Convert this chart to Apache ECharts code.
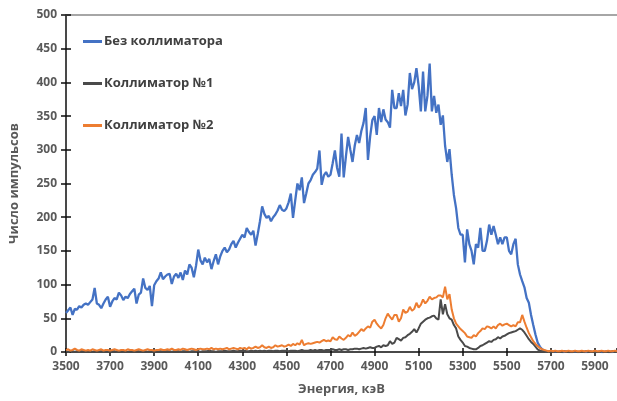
<!DOCTYPE html>
<html><head><meta charset="utf-8">
<script src="https://cdn.jsdelivr.net/npm/echarts@6/dist/echarts.min.js"></script>
<style>html,body{margin:0;padding:0;background:#fff}#c{width:617px;height:401px}</style>
</head><body><div id="c"></div>
<script>
const E_START = 3500, E_STEP = 10;
const seriesNames = ['Без коллиматора', 'Коллиматор №1', 'Коллиматор №2'];
const xTitle = 'Энергия, кэВ';
const yTitle = 'Число импульсов';

const noCollimator = [
 58, 62, 66, 55, 64, 63, 68, 66, 70, 72,
 70, 74, 78, 95, 72, 70, 65, 72, 78, 82,
 67, 75, 80, 78, 88, 84, 77, 82, 80, 86,
 90, 94, 72, 85, 88, 109, 95, 92, 98, 68,
 99, 105, 109, 118, 108, 112, 115, 116, 101, 112,
 116, 110, 118, 107, 121, 115, 130, 125, 111, 128,
 152, 136, 130, 140, 133, 138, 123, 135, 145, 130,
 142, 150, 155, 148, 152, 160, 165, 155, 162, 168,
 174, 170, 184, 178, 174, 180, 158, 175, 194, 216,
 205, 199, 202, 194, 200, 204, 210, 218, 211, 209,
 213, 222, 235, 199, 225, 250, 240, 259, 221, 235,
 250, 255, 263, 267, 272, 299, 248, 262, 267, 260,
 263, 280, 299, 273, 260, 324, 259, 290, 319, 300,
 282, 306, 322, 310, 328, 340, 362, 285, 320, 344,
 350, 322, 362, 341, 360, 345, 341, 333, 389, 362,
 362, 384, 365, 389, 351, 367, 414, 390, 400, 421,
 395, 357, 416, 357, 380, 428, 357, 380, 355, 367,
 337, 351, 306, 282, 301, 263, 233, 213, 184, 174,
 174, 133, 182, 160, 150, 130, 160, 155, 184, 150,
 150, 165, 189, 174, 187, 174, 160, 170, 160, 170,
 170, 150, 145, 160, 168, 130, 115, 105, 96, 80,
 73, 55, 40, 26, 14, 8, 4, 2, 1, 1,
 1, 0, 1, 0, 1, 0, 0, 1, 0, 0,
 0, 1, 0, 0, 1, 0, 0, 0, 1, 0,
 0, 0, 1, 0, 0, 1, 0, 0, 0, 1,
 0
];

const collimator1 = [
 1, 0, 1, 1, 0, 1, 0, 1, 1, 0,
 1, 1, 0, 1, 0, 1, 1, 0, 1, 1,
 0, 1, 1, 0, 1, 1, 0, 1, 0, 1,
 1, 0, 1, 1, 0, 1, 1, 0, 1, 1,
 0, 1, 1, 1, 0, 1, 1, 1, 0, 1,
 1, 1, 0, 1, 1, 1, 0, 1, 1, 1,
 1, 0, 1, 1, 1, 2, 1, 1, 0, 1,
 1, 1, 2, 1, 1, 1, 2, 1, 1, 2,
 1, 2, 1, 1, 2, 1, 2, 1, 2, 1,
 2, 1, 2, 2, 1, 2, 2, 1, 2, 2,
 2, 1, 2, 2, 2, 1, 2, 3, 2, 2,
 2, 3, 2, 3, 2, 3, 3, 2, 3, 3,
 3, 4, 3, 3, 4, 3, 4, 4, 3, 4,
 4, 5, 5, 4, 5, 6, 5, 6, 7, 6,
 6, 8, 9, 7, 10, 9, 10, 16, 12, 14,
 21, 19, 17, 21, 22, 25, 27, 30, 34, 29,
 35, 42, 45, 48, 50, 51, 53, 54, 50, 48,
 78, 56, 71, 56, 50, 48, 40, 35, 23, 18,
 14, 9, 8, 6, 5, 4, 4, 6, 9, 10,
 12, 14, 16, 15, 18, 19, 22, 20, 23, 24,
 26, 28, 29, 30, 31, 33, 35, 33, 29, 24,
 19, 15, 12, 8, 4, 2, 1, 1, 0, 0,
 0, 0, 1, 0, 0, 0, 1, 0, 0, 0,
 0, 1, 0, 0, 0, 0, 1, 0, 0, 0,
 0, 0, 0, 1, 0, 0, 0, 0, 1, 0,
 0
];

const collimator2 = [
 3, 4, 2, 3, 5, 3, 2, 4, 3, 2,
 3, 2, 4, 3, 2, 3, 4, 2, 3, 3,
 2, 3, 4, 3, 2, 3, 3, 2, 4, 3,
 3, 2, 3, 4, 3, 2, 3, 4, 3, 3,
 2, 3, 3, 4, 3, 3, 4, 3, 5, 3,
 3, 4, 3, 5, 4, 3, 4, 5, 4, 3,
 4, 5, 4, 4, 5, 4, 6, 4, 5, 4,
 5, 4, 5, 6, 4, 5, 6, 5, 4, 6,
 5, 6, 4, 7, 5, 6, 8, 6, 7, 10,
 7, 6, 8, 6, 7, 10, 8, 9, 10, 8,
 9, 11, 9, 12, 10, 13, 11, 18, 10, 12,
 13, 12, 13, 14, 15, 14, 16, 18, 16, 17,
 16, 22, 19, 18, 23, 20, 18, 21, 25, 23,
 29, 24, 26, 30, 34, 31, 35, 38, 36, 45,
 48, 42, 38, 35, 40, 50, 57, 52, 48, 55,
 55, 45, 50, 63, 58, 60, 67, 61, 64, 73,
 66, 70, 78, 72, 76, 82, 78, 80, 81, 84,
 84, 81, 97, 78, 86, 63, 50, 42, 38, 34,
 31, 28, 23, 22, 21, 25, 23, 28, 31, 35,
 34, 38, 37, 35, 38, 35, 40, 42, 39, 41,
 42, 40, 38, 40, 38, 44, 44, 55, 45, 36,
 28, 22, 16, 12, 9, 6, 4, 3, 2, 1,
 2, 1, 2, 1, 1, 2, 1, 1, 2, 1,
 1, 2, 1, 1, 2, 1, 1, 2, 1, 1,
 2, 1, 1, 2, 1, 1, 2, 1, 1, 2,
 1
];

const X_MIN = 3500, X_MAX = 6000, X_INTERVAL = 200;
const Y_MIN = 0, Y_MAX = 500, Y_INTERVAL = 50;

function pairs(arr) { return arr.map((v, i) => [E_START + i * E_STEP, v]); }

const font = '"Open Sans", sans-serif';
const labelStyle = { fontFamily: font, fontWeight: 'bold', fontSize: 12, color: '#595959' };
const axisBlack = { color: '#0d0d0d', width: 1.5 };

const chart = echarts.init(document.getElementById('c'), null, { renderer: 'canvas' });
chart.setOption({
  animation: false,
  backgroundColor: '#fff',
  grid: { left: 64, right: 0, top: 15, bottom: 44, containLabel: false },
  legend: {
    orient: 'vertical', left: 78, top: 30, itemGap: 29, itemWidth: 19, itemHeight: 3, icon: 'rect',
    textStyle: { fontFamily: font, fontWeight: 'bold', fontSize: 13, color: '#404040', padding: [0, 0, 0, -3] },
    data: seriesNames
  },
  xAxis: [
    {
      type: 'value', min: X_MIN, max: X_MAX, interval: X_INTERVAL, position: 'bottom',
      name: xTitle, nameLocation: 'middle', nameGap: 31,
      nameTextStyle: { fontFamily: font, fontWeight: 'bold', fontSize: 13, color: '#595959' },
      axisLine: { lineStyle: axisBlack },
      axisTick: { length: 4, lineStyle: axisBlack },
      axisLabel: Object.assign({ margin: 9, showMaxLabel: false, formatter: v => String(v) }, labelStyle),
      splitLine: { show: false }
    },
    {
      type: 'value', min: X_MIN, max: X_MAX, interval: X_INTERVAL, position: 'bottom',
      axisLine: { show: false },
      axisTick: { inside: true, length: 4, lineStyle: axisBlack },
      axisLabel: { show: false }, splitLine: { show: false }
    },
    {
      type: 'value', min: X_MIN, max: X_MAX, position: 'top',
      axisLine: { lineStyle: { color: '#a6a6a6', width: 2 } },
      axisTick: { show: false }, axisLabel: { show: false }, splitLine: { show: false }
    }
  ],
  yAxis: [
    {
      type: 'value', min: Y_MIN, max: Y_MAX, interval: Y_INTERVAL, position: 'left',
      name: yTitle, nameLocation: 'middle', nameGap: 45,
      nameTextStyle: { fontFamily: font, fontWeight: 'bold', fontSize: 13, color: '#595959' },
      axisLine: { lineStyle: axisBlack },
      axisTick: { length: 5, lineStyle: axisBlack },
      axisLabel: Object.assign({ margin: 9, formatter: v => String(v) }, labelStyle),
      splitLine: { show: false }
    },
    {
      type: 'value', min: Y_MIN, max: Y_MAX, interval: Y_INTERVAL, position: 'left',
      axisLine: { show: false },
      axisTick: { inside: true, length: 5, lineStyle: axisBlack },
      axisLabel: { show: false }, splitLine: { show: false }
    }
  ],
  series: [
    { name: seriesNames[0], type: 'line', data: pairs(noCollimator), showSymbol: false, symbol: 'none',
      lineStyle: { color: '#4472C4', width: 2.3 }, itemStyle: { color: '#4472C4' } },
    { name: seriesNames[1], type: 'line', data: pairs(collimator1), showSymbol: false, symbol: 'none',
      lineStyle: { color: '#4a4a4a', width: 2 }, itemStyle: { color: '#4a4a4a' } },
    { name: seriesNames[2], type: 'line', data: pairs(collimator2), showSymbol: false, symbol: 'none',
      lineStyle: { color: '#ED7D31', width: 2 }, itemStyle: { color: '#ED7D31' } }
  ]
});
</script>
</body></html>
